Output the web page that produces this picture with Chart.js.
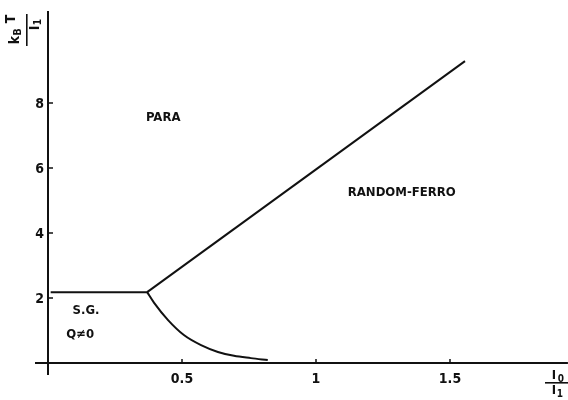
<!DOCTYPE html>
<html>
<head>
<meta charset="utf-8">
<script src="https://cdn.jsdelivr.net/npm/chart.js@4"></script>
<style>
  html, body { margin: 0; padding: 0; background: #fff; }
  #wrap { width: 568px; height: 400px; position: relative; }
</style>
</head>
<body>
<div id="wrap"><canvas id="phase"></canvas></div>
<script>
// phase boundaries (x = I0/I1, y = kB T/I1)
const sgX = [0.01, 0.37];
const sgY = [2.18, 2.18];
const ferroX = [0.37, 1.556];
const ferroY = [2.18, 9.29];
const curveX = [0.37, 0.396, 0.448, 0.507, 0.571, 0.634, 0.694, 0.757, 0.82];
const curveY = [2.18, 1.85, 1.32, 0.86, 0.55, 0.34, 0.22, 0.15, 0.09];
const xTicks = [0.5, 1, 1.5];
const xTickLabels = ["0.5", "1", "1.5"];
const yTicks = [2, 4, 6, 8];
const yTickLabels = ["2", "4", "6", "8"];
const regionText = ["PARA", "RANDOM-FERRO", "S.G.", "Q\u22600"];
const regionX = [0.43, 1.32, 0.142, 0.12];
const regionY = [7.54, 5.23, 1.6, 0.86];

const FONT = '"DejaVu Sans Condensed", "DejaVu Sans", sans-serif';
const INK = "#111";

function pts(xs, ys) {
  return xs.map((x, i) => ({ x: x, y: ys[i] }));
}

function line(xs, ys, smooth) {
  return {
    data: pts(xs, ys),
    showLine: true,
    borderColor: INK,
    borderWidth: 2,
    pointRadius: 0,
    tension: smooth ? 0.4 : 0,
    cubicInterpolationMode: smooth ? "monotone" : "default",
  };
}

// axes are drawn through the origin, like in the scanned figure
const axesPlugin = {
  id: "axes",
  afterDatasetsDraw(chart) {
    const ctx = chart.ctx;
    const xs = chart.scales.x, ys = chart.scales.y;
    const x0 = xs.getPixelForValue(0), y0 = ys.getPixelForValue(0);
    ctx.save();
    ctx.strokeStyle = INK;
    ctx.fillStyle = INK;
    ctx.lineWidth = 2;
    ctx.beginPath();
    ctx.moveTo(xs.getPixelForValue(-0.0485), y0);
    ctx.lineTo(xs.getPixelForValue(1.94), y0);
    ctx.moveTo(x0, ys.getPixelForValue(-0.37));
    ctx.lineTo(x0, ys.getPixelForValue(10.83));
    ctx.stroke();

    ctx.lineWidth = 1.5;
    ctx.beginPath();
    yTicks.forEach((v) => {
      const p = ys.getPixelForValue(v);
      ctx.moveTo(x0, p);
      ctx.lineTo(x0 + 5, p);
    });
    xTicks.forEach((v) => {
      const p = xs.getPixelForValue(v);
      ctx.moveTo(p, y0);
      ctx.lineTo(p, y0 - 4);
    });
    ctx.stroke();

    ctx.font = "bold 14px " + FONT;
    ctx.textAlign = "right";
    ctx.textBaseline = "middle";
    yTicks.forEach((v, i) => ctx.fillText(yTickLabels[i], x0 - 4, ys.getPixelForValue(v) + 1));
    ctx.textAlign = "center";
    xTicks.forEach((v, i) => ctx.fillText(xTickLabels[i], xs.getPixelForValue(v), y0 + 16));

    ctx.font = "bold 13px " + FONT;
    regionText.forEach((t, i) => ctx.fillText(t, xs.getPixelForValue(regionX[i]), ys.getPixelForValue(regionY[i])));

    // x title: I0 / I1
    ctx.font = "bold 13px " + FONT;
    ctx.fillText("I", 554, 376);
    ctx.font = "bold 10px " + FONT;
    ctx.fillText("0", 561, 379);
    ctx.fillRect(545, 382, 23, 1.6);
    ctx.font = "bold 13px " + FONT;
    ctx.fillText("I", 554, 391);
    ctx.font = "bold 10px " + FONT;
    ctx.fillText("1", 560, 394);

    // y title: kB T / I1, rotated
    ctx.save();
    ctx.translate(15, 30);
    ctx.rotate(-Math.PI / 2);
    ctx.font = "bold 14px " + FONT;
    ctx.textAlign = "center";
    ctx.fillText("k", -10, 0);
    ctx.font = "bold 11px " + FONT;
    ctx.fillText("B", -2, 3);
    ctx.font = "bold 14px " + FONT;
    ctx.fillText("T", 11, -4);
    ctx.fillRect(-16, 11, 32, 1.6);
    ctx.fillText("I", 2, 20);
    ctx.font = "bold 10px " + FONT;
    ctx.fillText("1", 8, 23);
    ctx.restore();
    ctx.restore();
  },
};

new Chart(document.getElementById("phase"), {
  type: "scatter",
  data: {
    datasets: [line(sgX, sgY, false), line(ferroX, ferroY, false), line(curveX, curveY, true)],
  },
  options: {
    responsive: true,
    maintainAspectRatio: false,
    animation: false,
    layout: { padding: 0 },
    plugins: { legend: { display: false }, tooltip: { enabled: false } },
    scales: {
      x: { type: "linear", display: false, min: -48 / 268, max: 520 / 268 },
      y: { type: "linear", display: false, min: -37 / 32.5, max: 363 / 32.5 },
    },
  },
  plugins: [axesPlugin],
});
</script>
</body>
</html>
